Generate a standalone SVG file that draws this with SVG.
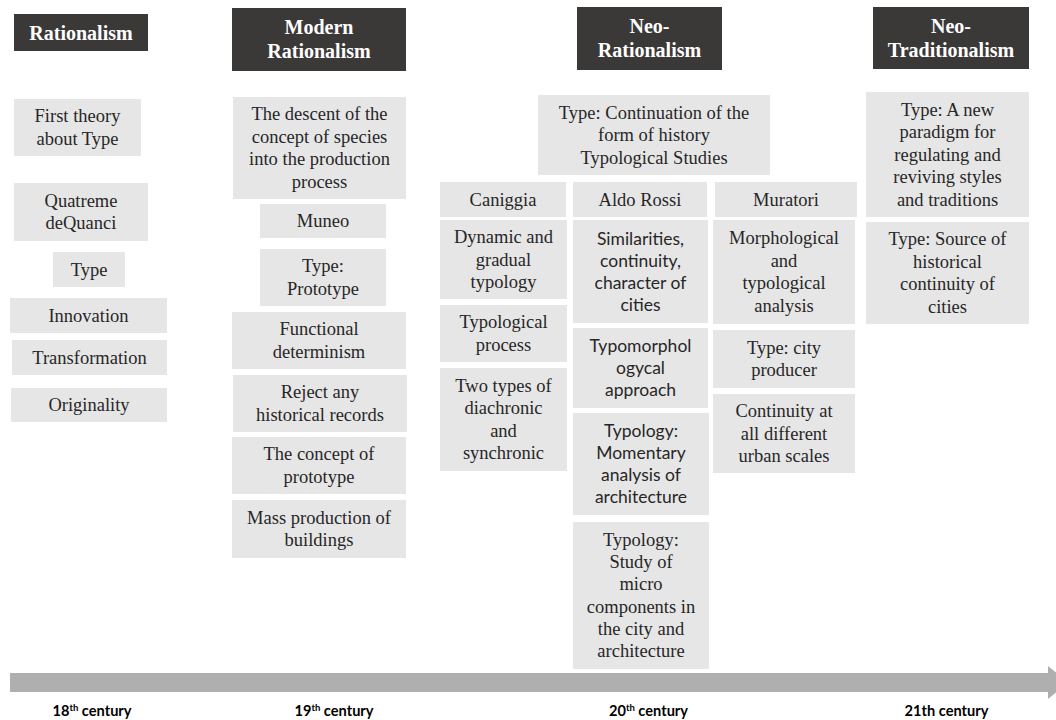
<svg xmlns="http://www.w3.org/2000/svg" width="1056" height="720" viewBox="0 0 1056 720">
<style>
.hd{fill:#3b3838}
.ht{font-family:"Liberation Serif",serif;font-weight:bold;font-size:20px;fill:#ffffff;text-anchor:middle}
.bx{fill:#e7e6e6}
.t{font-family:"Liberation Serif","Times New Roman",serif;font-size:18.5px;fill:#262626;text-anchor:middle}
.s{font-family:Lato,"Liberation Sans",sans-serif;font-size:17.5px;fill:#262626;text-anchor:middle}
.c{font-family:Lato,"Liberation Sans",sans-serif;font-weight:bold;font-size:14.6px;fill:#000000;text-anchor:middle}
.sup{font-size:9.5px}
.ar{fill:#afafaf}
</style>
<rect width="1056" height="720" fill="#ffffff"/>

<g id="timeline">
  <rect class="ar" x="10" y="673" width="1040" height="19"/>
  <polygon class="ar" points="1048,666 1068,682.5 1048,699"/>
</g>

<g id="labels">
  <text class="c" x="92" y="716">18<tspan class="sup" dy="-5">th</tspan><tspan dy="5"> century</tspan></text>
  <text class="c" x="334" y="716">19<tspan class="sup" dy="-5">th</tspan><tspan dy="5"> century</tspan></text>
  <text class="c" x="648.5" y="716">20<tspan class="sup" dy="-5">th</tspan><tspan dy="5"> century</tspan></text>
  <text class="c" x="946.5" y="716">21th century</text>
</g>

<g id="h-rationalism"><rect class="hd" x="14" y="14" width="134" height="37"/><text class="ht" x="81" y="40">Rationalism</text></g>
<g id="h-modern"><rect class="hd" x="232" y="8" width="174" height="63"/><text class="ht" x="319" y="34">Modern<tspan x="319" y="58">Rationalism</tspan></text></g>
<g id="h-neorat"><rect class="hd" x="577" y="7" width="145" height="63"/><text class="ht" x="649.5" y="33">Neo-<tspan x="649.5" y="57">Rationalism</tspan></text></g>
<g id="h-neotrad"><rect class="hd" x="873" y="7" width="156" height="62"/><text class="ht" x="951" y="33">Neo-<tspan x="951" y="57">Traditionalism</tspan></text></g>

<g id="n1"><rect class="bx" x="14" y="99" width="127" height="57"/><text class="t" x="77.5" y="122.25">First theory<tspan x="77.5" dy="22.5">about Type</tspan></text></g>
<g id="n2"><rect class="bx" x="14" y="183" width="134" height="58"/><text class="t" x="81" y="206.75">Quatreme<tspan x="81" dy="22.5">deQuanci</tspan></text></g>
<g id="n3"><rect class="bx" x="53" y="252" width="72" height="35"/><text class="t" x="89" y="275.5">Type</text></g>
<g id="n4"><rect class="bx" x="10" y="298" width="157" height="35"/><text class="t" x="88.5" y="321.5">Innovation</text></g>
<g id="n5"><rect class="bx" x="12" y="340" width="155" height="35"/><text class="t" x="89.5" y="363.5">Transformation</text></g>
<g id="n6"><rect class="bx" x="11" y="388" width="156" height="34"/><text class="t" x="89" y="411">Originality</text></g>

<g id="n7"><rect class="bx" x="233" y="97" width="173" height="102"/><text class="t" x="319.5" y="120.25">The descent of the<tspan x="319.5" dy="22.5">concept of species</tspan><tspan x="319.5" dy="22.5">into the production</tspan><tspan x="319.5" dy="22.5">process</tspan></text></g>
<g id="n8"><rect class="bx" x="260" y="204" width="126" height="34"/><text class="t" x="323" y="227">Muneo</text></g>
<g id="n9"><rect class="bx" x="260" y="249" width="126" height="57"/><text class="t" x="323" y="272.25">Type:<tspan x="323" dy="22.5">Prototype</tspan></text></g>
<g id="n10"><rect class="bx" x="232" y="312" width="174" height="57"/><text class="t" x="319" y="335.25">Functional<tspan x="319" dy="22.5">determinism</tspan></text></g>
<g id="n11"><rect class="bx" x="233" y="375" width="174" height="57"/><text class="t" x="320" y="398.25">Reject any<tspan x="320" dy="22.5">historical records</tspan></text></g>
<g id="n12"><rect class="bx" x="232" y="437" width="174" height="57"/><text class="t" x="319" y="460.25">The concept of<tspan x="319" dy="22.5">prototype</tspan></text></g>
<g id="n13"><rect class="bx" x="232" y="500" width="174" height="58"/><text class="t" x="319" y="523.75">Mass production of<tspan x="319" dy="22.5">buildings</tspan></text></g>

<g id="n14"><rect class="bx" x="538" y="95" width="232" height="80"/><text class="t" x="654" y="118.5">Type: Continuation of the<tspan x="654" dy="22.5">form of history</tspan><tspan x="654" dy="22.5">Typological Studies</tspan></text></g>
<g id="n15"><rect class="bx" x="440" y="182" width="126" height="35"/><text class="t" x="503" y="205.5">Caniggia</text></g>
<g id="n16"><rect class="bx" x="573" y="182" width="134" height="35"/><text class="t" x="640" y="205.5">Aldo Rossi</text></g>
<g id="n17"><rect class="bx" x="715" y="182" width="142" height="35"/><text class="t" x="786" y="205.5">Muratori</text></g>
<g id="n18"><rect class="bx" x="440" y="220" width="127" height="79"/><text class="t" x="503.5" y="243">Dynamic and<tspan x="503.5" dy="22.5">gradual</tspan><tspan x="503.5" dy="22.5">typology</tspan></text></g>
<g id="n19"><rect class="bx" x="440" y="305" width="127" height="57"/><text class="t" x="503.5" y="328.25">Typological<tspan x="503.5" dy="22.5">process</tspan></text></g>
<g id="n20"><rect class="bx" x="440" y="368" width="127" height="103"/><text class="t" x="503.5" y="391.75">Two types of<tspan x="503.5" dy="22.5">diachronic</tspan><tspan x="503.5" dy="22.5">and</tspan><tspan x="503.5" dy="22.5">synchronic</tspan></text></g>
<g id="n21"><rect class="bx" x="573" y="220" width="135" height="103"/><text class="s" x="640.5" y="244.5">Similarities,<tspan x="640.5" dy="22">continuity,</tspan><tspan x="640.5" dy="22">character of</tspan><tspan x="640.5" dy="22">cities</tspan></text></g>
<g id="n22"><rect class="bx" x="573" y="328" width="135" height="80"/><text class="s" x="640.5" y="352">Typomorphol<tspan x="640.5" dy="22">ogycal</tspan><tspan x="640.5" dy="22">approach</tspan></text></g>
<g id="n23"><rect class="bx" x="573" y="413" width="136" height="102"/><text class="s" x="641" y="437">Typology:<tspan x="641" dy="22">Momentary</tspan><tspan x="641" dy="22">analysis of</tspan><tspan x="641" dy="22">architecture</tspan></text></g>
<g id="n24"><rect class="bx" x="573" y="522" width="136" height="147"/><text class="t" x="641" y="545.75">Typology:<tspan x="641" dy="22.3">Study of</tspan><tspan x="641" dy="22.3">micro</tspan><tspan x="641" dy="22.3">components in</tspan><tspan x="641" dy="22.3">the city and</tspan><tspan x="641" dy="22.3">architecture</tspan></text></g>
<g id="n25"><rect class="bx" x="713" y="220" width="142" height="104"/><text class="t" x="784" y="244.25">Morphological<tspan x="784" dy="22.5">and</tspan><tspan x="784" dy="22.5">typological</tspan><tspan x="784" dy="22.5">analysis</tspan></text></g>
<g id="n26"><rect class="bx" x="713" y="330" width="142" height="58"/><text class="t" x="784" y="353.75">Type: city<tspan x="784" dy="22.5">producer</tspan></text></g>
<g id="n27"><rect class="bx" x="713" y="394" width="142" height="79"/><text class="t" x="784" y="417">Continuity at<tspan x="784" dy="22.5">all different</tspan><tspan x="784" dy="22.5">urban scales</tspan></text></g>

<g id="n28"><rect class="bx" x="866" y="92" width="163" height="125"/><text class="t" x="947.5" y="115.5">Type: A new<tspan x="947.5" dy="22.5">paradigm for</tspan><tspan x="947.5" dy="22.5">regulating and</tspan><tspan x="947.5" dy="22.5">reviving styles</tspan><tspan x="947.5" dy="22.5">and traditions</tspan></text></g>
<g id="n29"><rect class="bx" x="866" y="222" width="163" height="102"/><text class="t" x="947.5" y="245.25">Type: Source of<tspan x="947.5" dy="22.5">historical</tspan><tspan x="947.5" dy="22.5">continuity of</tspan><tspan x="947.5" dy="22.5">cities</tspan></text></g>
</svg>
